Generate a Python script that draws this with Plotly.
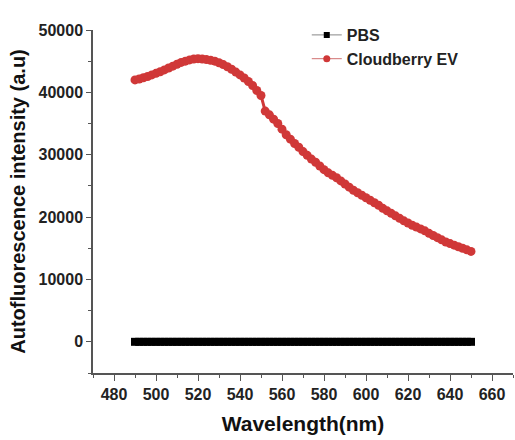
import plotly.graph_objects as go

wavelength = list(range(490, 652, 2))

pbs = [0] * len(wavelength)

cloudberry_ev = [
    42000, 42150, 42350, 42550, 42800, 43050, 43300, 43600, 43900, 44200,
    44500, 44800, 45000, 45200, 45350, 45400, 45350, 45250, 45150, 45000,
    44750, 44450, 44100, 43700, 43250, 42800, 42300, 41750, 41100, 40300,
    39500, 37000, 36400, 35700, 35000, 34100, 33200, 32500, 31800, 31200,
    30500, 29900, 29300, 28800, 28200, 27600, 27100, 26700, 26300, 25800,
    25300, 24800, 24300, 23900, 23500, 23100, 22700, 22300, 21900, 21400,
    21000, 20600, 20200, 19800, 19400, 19050, 18700, 18400, 18100, 17800,
    17400, 17050, 16700, 16350, 16000, 15750, 15500, 15250, 15000, 14750,
    14500,
]

series_names = ["PBS", "Cloudberry EV"]

x_ticks = [480, 500, 520, 540, 560, 580, 600, 620, 640, 660]
y_ticks = [0, 10000, 20000, 30000, 40000, 50000]

FONT = "Liberation Sans, Arial, sans-serif"
AXIS_COLOR = "#555555"
RED = "#d03838"
BLACK = "#000000"

fig = go.Figure()
fig.add_trace(go.Scatter(
    x=wavelength, y=pbs, name=series_names[0], mode="lines+markers",
    line=dict(color="#111111", width=3), showlegend=False,
    marker=dict(symbol="square", size=8, color=BLACK, line=dict(width=0)),
))
fig.add_trace(go.Scatter(
    x=wavelength, y=cloudberry_ev, name=series_names[1], mode="lines+markers",
    line=dict(color=RED, width=3), showlegend=False,
    marker=dict(symbol="circle", size=9, color=RED, line=dict(width=0)),
))
# legend entries (thin line with small symbol, as in the original)
fig.add_trace(go.Scatter(
    x=[None], y=[None], name=series_names[0], mode="lines+markers",
    line=dict(color="#888888", width=1),
    marker=dict(symbol="square", size=6, color=BLACK, line=dict(width=0)),
))
fig.add_trace(go.Scatter(
    x=[None], y=[None], name=series_names[1], mode="lines+markers",
    line=dict(color="#d07070", width=1),
    marker=dict(symbol="circle", size=7, color=RED, line=dict(width=0)),
))

fig.update_layout(
    width=515, height=440,
    margin=dict(l=93, r=2, t=30, b=67, autoexpand=False),
    paper_bgcolor="white", plot_bgcolor="white",
    font=dict(family=FONT, color="#111111"),
    showlegend=True,
    legend=dict(
        x=0.509, y=1.035, xanchor="left", yanchor="top",
        bgcolor="rgba(0,0,0,0)",
        font=dict(family=FONT, size=16, weight="bold", color="#222222"),
        tracegroupgap=0,
    ),
)

fig.update_xaxes(
    range=[470, 670], automargin=False,
    tickvals=x_ticks,
    ticks="outside", ticklen=6, tickwidth=1.2, tickcolor=AXIS_COLOR,
    minor=dict(ticks="outside", ticklen=3, dtick=10, tickcolor=AXIS_COLOR),
    showline=True, linecolor=AXIS_COLOR, linewidth=1.5,
    showgrid=False, zeroline=False,
    tickfont=dict(family=FONT, size=16, weight="bold", color="#222222"),
    title=dict(text="Wavelength(nm)", standoff=14,
               font=dict(family=FONT, size=21, weight="bold", color="#111111")),
)
fig.update_yaxes(
    range=[-5000, 50000], automargin=False,
    tickvals=y_ticks, tickformat="d",
    ticks="outside", ticklen=5, tickwidth=1.2, tickcolor=AXIS_COLOR,
    minor=dict(ticks="outside", ticklen=3, dtick=5000, tickcolor=AXIS_COLOR),
    showline=True, linecolor=AXIS_COLOR, linewidth=1.5,
    showgrid=False, zeroline=False,
    tickfont=dict(family=FONT, size=16, weight="bold", color="#222222"),
    title=dict(text="Autofluorescence intensity (a.u)", standoff=8,
               font=dict(family=FONT, size=20, weight="bold", color="#111111")),
)

fig.write_html(
    "out.html",
    config={"displayModeBar": False},
    post_script="document.body.style.margin='0';document.body.style.overflow='hidden';",
)
